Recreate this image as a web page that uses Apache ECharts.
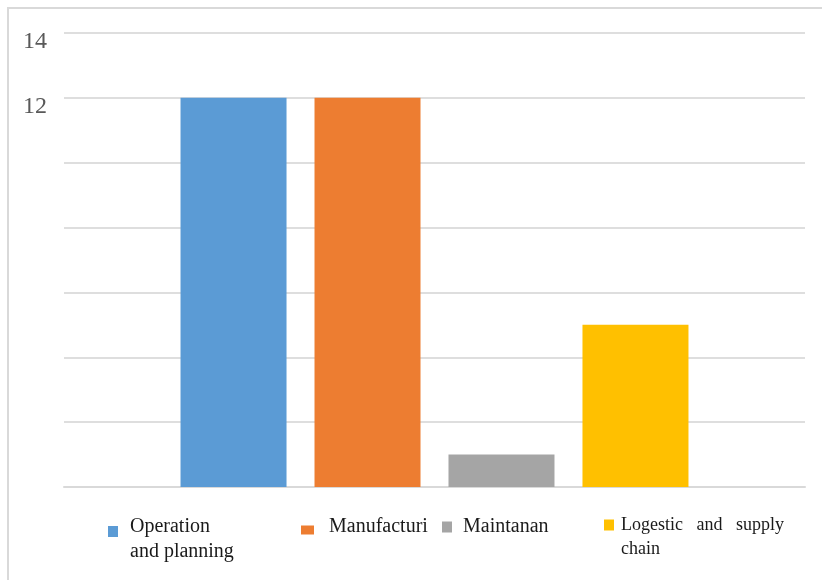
<!DOCTYPE html>
<html>
<head>
<meta charset="utf-8">
<script src="https://cdn.jsdelivr.net/npm/echarts@6/dist/echarts.min.js"></script>
<style>
  html, body { margin: 0; padding: 0; background: #fff; }
  #chart { width: 822px; height: 580px; }
</style>
</head>
<body>
<div id="chart"></div>
<script>
// Department counts shown as one group of four bars
const categories = ['Departments'];
const seriesNames = ['Operation and planning', 'Manufacturi', 'Maintanan', 'Logestic and supply chain'];
const seriesValues = [12, 12, 1, 5];
const seriesColors = ['#5b9bd5', '#ed7d31', '#a5a5a5', '#ffc000'];
const legendLines = [['Operation', 'and planning'], ['Manufacturi'], ['Maintanan'], ['Logestic   and   supply', 'chain']];
const yTickLabels = ['12', '14'];

// Hand-placed legend entries: icon box, font, spacer above/below the text block
const legendLayout = [
  { left: 108, top: 499, w: 10, h: 11, size: 20, lh: 25, gap: 7,  above: 15, below: 0 },
  { left: 301, top: 517, w: 13, h: 9,  size: 20, lh: 25, gap: 10, above: 0,  below: 6 },
  { left: 442, top: 517, w: 10, h: 11, size: 20, lh: 25, gap: 6,  above: 0,  below: 0 },
  { left: 604, top: 489, w: 10, h: 11, size: 18, lh: 24, gap: 2,  above: 24, below: 0 }
];

const chart = echarts.init(document.getElementById('chart'), null, { renderer: 'canvas' });

const serifFont = '"Liberation Serif", "Times New Roman", serif';

const legends = seriesNames.map((name, i) => {
  const L = legendLayout[i];
  const parts = [];
  if (L.above) parts.push('{top| }');
  legendLines[i].forEach(t => parts.push('{t|' + t + '}'));
  if (L.below) parts.push('{bot| }');
  const label = parts.join('\n');
  return {
    data: [name],
    left: L.left,
    top: L.top,
    padding: 0,
    itemWidth: L.w,
    itemHeight: L.h,
    icon: 'rect',
    selectedMode: false,
    formatter: () => label,
    textStyle: {
      rich: {
        t: {
          fontFamily: serifFont,
          fontSize: L.size,
          lineHeight: L.lh,
          color: '#1a1a1a',
          padding: [0, 0, 0, L.gap]
        },
        top: { fontSize: 1, lineHeight: L.above || 1, height: L.above || 1 },
        bot: { fontSize: 1, lineHeight: L.below || 1, height: L.below || 1 }
      }
    }
  };
});

const option = {
  backgroundColor: '#ffffff',
  animation: false,
  graphic: [{
    type: 'rect',
    shape: { x: 8, y: 8, width: 900, height: 700 },
    style: { fill: 'none', stroke: '#d9d9d9', lineWidth: 2 },
    silent: true
  }],
  grid: { left: 64, right: 17, top: 33, bottom: 93, containLabel: false },
  legend: legends,
  xAxis: {
    type: 'category',
    data: categories,
    axisLine: { show: true, lineStyle: { color: '#d9d9d9', width: 2 } },
    axisTick: { show: false },
    axisLabel: { show: false }
  },
  yAxis: {
    type: 'value',
    min: 0,
    max: 14,
    interval: 2,
    axisLine: { show: false },
    axisTick: { show: false },
    splitLine: { lineStyle: { color: '#dedede', width: 2 } },
    axisLabel: {
      margin: 17,
      formatter: v => (yTickLabels.indexOf(String(v)) >= 0 ? '{n|' + v + '}' : ''),
      rich: {
        n: {
          fontFamily: serifFont,
          fontSize: 24,
          lineHeight: 24,
          color: '#595959',
          padding: [17, 0, 0, 0]
        }
      }
    }
  },
  series: seriesNames.map((name, i) => ({
    name: name,
    type: 'bar',
    data: [seriesValues[i]],
    barWidth: 106,
    barGap: '26.4%',
    itemStyle: { color: seriesColors[i] }
  }))
};

chart.setOption(option);
</script>
</body>
</html>
